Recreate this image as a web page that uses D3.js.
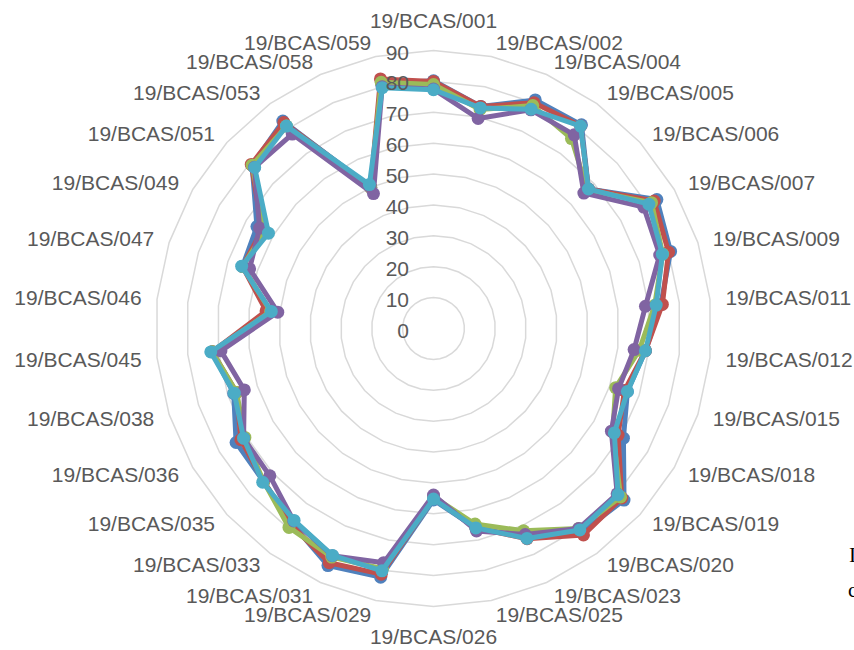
<!DOCTYPE html>
<html><head><meta charset="utf-8">
<script src="https://cdn.jsdelivr.net/npm/d3@7"></script>
<style>html,body{margin:0;padding:0;background:#fff;overflow:hidden}</style>
</head><body>
<svg id="c" width="854" height="650"></svg>
<script>
const categories = ["19/BCAS/001","19/BCAS/002","19/BCAS/004","19/BCAS/005","19/BCAS/006","19/BCAS/007","19/BCAS/009","19/BCAS/011","19/BCAS/012","19/BCAS/015","19/BCAS/018","19/BCAS/019","19/BCAS/020","19/BCAS/023","19/BCAS/025","19/BCAS/026","19/BCAS/029","19/BCAS/031","19/BCAS/033","19/BCAS/035","19/BCAS/036","19/BCAS/038","19/BCAS/045","19/BCAS/046","19/BCAS/047","19/BCAS/049","19/BCAS/051","19/BCAS/053","19/BCAS/058","19/BCAS/059"];
const seriesBlue   = [80.2,73.5,81,81.5,67.5,83.5,80.7,74,69,66,71,83,81.5,74,66,55.5,82.3,84,78,74,73.8,68,72,53.5,65,66,79,83,50,81];
const seriesRed    = [80,73.5,80,81,67.5,82.5,80,74.5,69,65,69,82,82.6,74.5,66,55,81.3,83,78.5,74,72,67,72,54.5,65,64,79.4,82.4,50,82.6];
const seriesGreen  = [79,72.5,79,76,67,81.5,78,72,67,62,67,81.5,80,71.7,64.7,54.5,79.5,81,79.6,74,70.5,67,72,53,65,63,79,81,50,81.5];
const seriesPurple = [77.5,69.5,77.5,77.5,65.5,78.6,77,69,65.3,63,66.5,80,80,73,67,53.9,77.5,80.5,77,71.3,71,64.4,69.2,50.7,62.6,65,78,77.8,47.8,80];
const seriesAqua   = [77.3,73,77.7,81,67.5,80.5,77.9,72.5,69,66,67.6,80.4,80.6,74.4,66,55.2,80.2,80.4,76.8,74.4,71,67.8,72.5,52.8,65.3,61.7,77.9,81,51,79.7];
const tickValues = [0,10,20,30,40,50,60,70,80,90];
const seriesColors = ["#4F81BD","#C0504D","#9BBB59","#8064A2","#4BACC6"];

const allSeries = [seriesBlue, seriesRed, seriesGreen, seriesPurple, seriesAqua];
const cx = 433.5, cy = 328.5;
const svg = d3.select("#c");
const g = svg.append("g").attr("transform", `translate(${cx},${cy})`);
const r = d3.scaleLinear().domain([0, 90]).range([0, 278]);
const ang = d3.scaleLinear().domain([0, categories.length]).range([0, 2 * Math.PI]);
const idx = d3.range(categories.length);

// grid polygons
const gridLine = d3.lineRadial().angle(i => ang(i)).curve(d3.curveLinearClosed);
tickValues.filter(v => v > 0).forEach(v => {
  g.append("path")
    .attr("d", gridLine.radius(() => r(v))(idx))
    .attr("fill", "none").attr("stroke", "#d9d9d9").attr("stroke-width", 1.5);
});

const font = "'Liberation Sans', Arial, sans-serif";
// category labels
const R = 292;
categories.forEach((c, i) => {
  const a = ang(i), s = Math.sin(a), co = Math.cos(a);
  let anchor = "middle", x = R * s, y = -R * co;
  if (s > 0.01) { anchor = "start"; x += 1.5; }
  else if (s < -0.01) { anchor = "end"; x -= 1.5; }
  else { y += -co * 16; }
  g.append("text").attr("x", x).attr("y", y)
    .attr("text-anchor", anchor).attr("dominant-baseline", "central")
    .attr("font-family", font).attr("font-size", 21).attr("fill", "#595959")
    .text(c);
});

// series
const line = d3.lineRadial().angle((d, i) => ang(i)).radius(d => r(d)).curve(d3.curveLinearClosed);
allSeries.forEach((data, k) => {
  const col = seriesColors[k];
  g.append("path").attr("d", line(data)).attr("fill", "none")
    .attr("stroke", col).attr("stroke-width", 5).attr("stroke-linejoin", "round");
  g.selectAll(null).data(data).enter().append("circle")
    .attr("cx", (d, i) => r(d) * Math.sin(ang(i)))
    .attr("cy", (d, i) => -r(d) * Math.cos(ang(i)))
    .attr("r", 6.5).attr("fill", col);
});

// radial axis tick labels
tickValues.forEach(v => {
  g.append("text").attr("x", -24.5).attr("y", -r(v) + 1.5)
    .attr("text-anchor", "end").attr("dominant-baseline", "central")
    .attr("font-family", font).attr("font-size", 21).attr("fill", "#595959")
    .text(v);
});

// cut-off document text at right edge (partially visible in the reference)
svg.append("text").attr("x", 849).attr("y", 562).attr("font-family", "'Liberation Serif', serif")
  .attr("font-size", 21).attr("fill", "#000").text("I");
svg.append("text").attr("x", 848).attr("y", 597).attr("font-family", "'Liberation Serif', serif")
  .attr("font-size", 21).attr("fill", "#000").text("c");
</script>
</body></html>
